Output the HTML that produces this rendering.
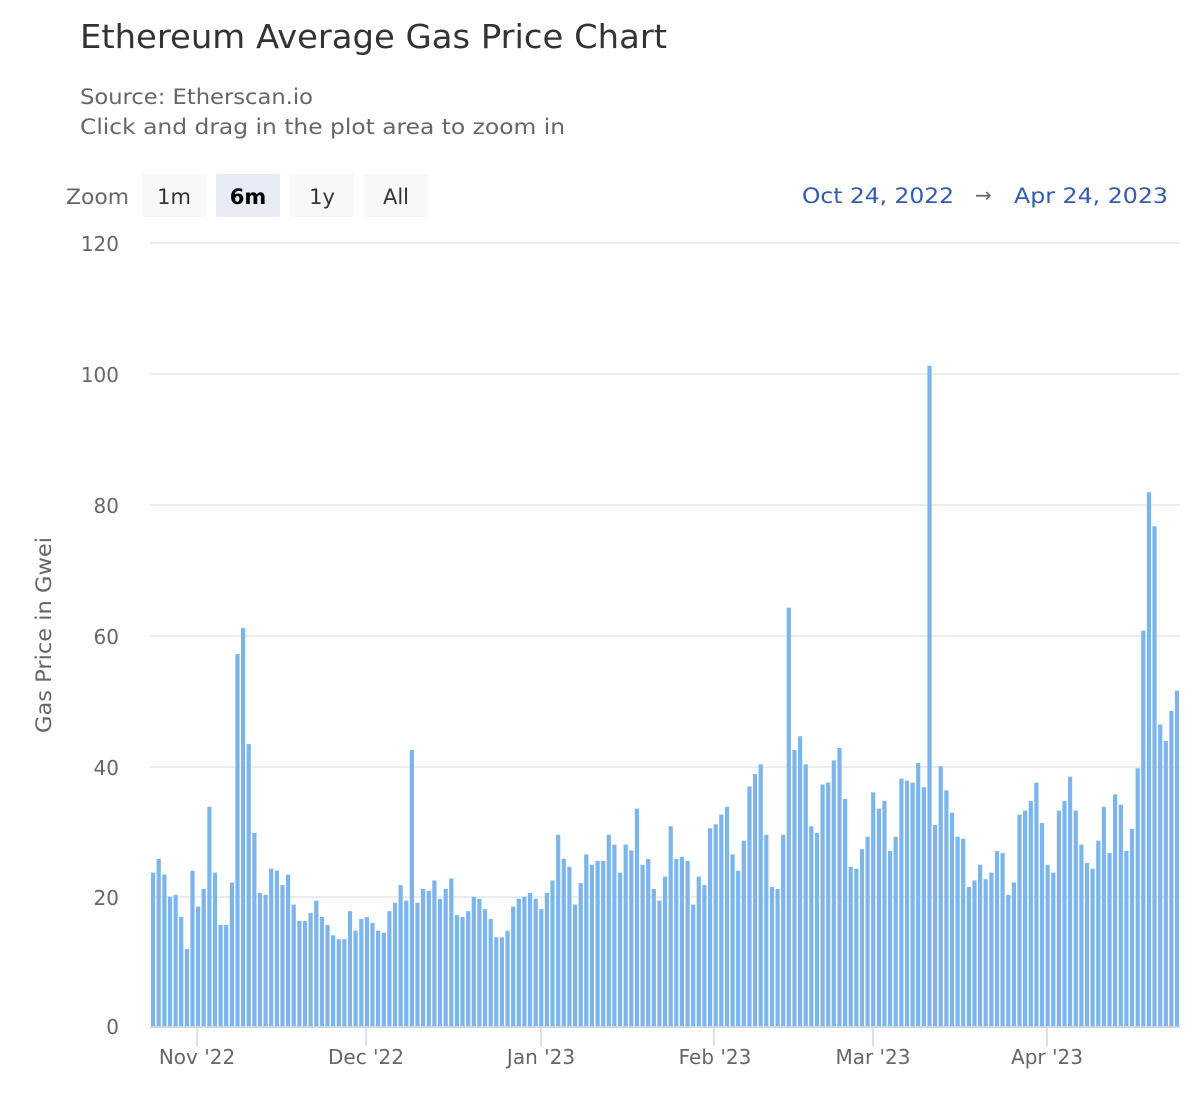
<!DOCTYPE html>
<html><head><meta charset="utf-8"><style>
html,body{margin:0;padding:0;background:#fff;}
svg{display:block;font-family:"DejaVu Sans","Liberation Sans",sans-serif;}
</style></head><body>
<svg id="s" width="1200" height="1100" viewBox="0 0 1200 1100" xmlns="http://www.w3.org/2000/svg">
<rect width="1200" height="1100" fill="#fff"/>
<text x="80" y="48" font-size="33" fill="#333" textLength="587" lengthAdjust="spacingAndGlyphs">Ethereum Average Gas Price Chart</text>
<text x="80" y="104" font-size="21" fill="#666" textLength="233" lengthAdjust="spacingAndGlyphs">Source: Etherscan.io</text>
<text x="80" y="134" font-size="21" fill="#666" textLength="485" lengthAdjust="spacingAndGlyphs">Click and drag in the plot area to zoom in</text>
<text x="66" y="204" font-size="21" fill="#666" textLength="63" lengthAdjust="spacingAndGlyphs">Zoom</text>
<rect x="142" y="174" width="64" height="43" rx="2" fill="#f7f7f7"/>
<rect x="216" y="174" width="64" height="43" rx="2" fill="#e6ebf5"/>
<rect x="290" y="174" width="64" height="43" rx="2" fill="#f7f7f7"/>
<rect x="364" y="174" width="64" height="43" rx="2" fill="#f7f7f7"/>
<text x="174" y="204" font-size="21" fill="#333" text-anchor="middle">1m</text>
<text x="248" y="204" font-size="21" fill="#000" font-weight="bold" text-anchor="middle">6m</text>
<text x="322" y="204" font-size="21" fill="#333" text-anchor="middle">1y</text>
<text x="396" y="204" font-size="21" fill="#333" text-anchor="middle">All</text>
<text x="802" y="203" font-size="21" fill="#335cad" textLength="152" lengthAdjust="spacingAndGlyphs">Oct 24, 2022</text>
<text x="975" y="202" font-size="20" fill="#666">→</text>
<text x="1014" y="203" font-size="21" fill="#335cad" textLength="154" lengthAdjust="spacingAndGlyphs">Apr 24, 2023</text>
<g stroke="#e6e6e6" stroke-width="1.5">
<line x1="150" x2="1180" y1="243" y2="243"/><line x1="150" x2="1180" y1="374" y2="374"/>
<line x1="150" x2="1180" y1="505" y2="505"/><line x1="150" x2="1180" y1="636" y2="636"/>
<line x1="150" x2="1180" y1="767" y2="767"/><line x1="150" x2="1180" y1="897" y2="897"/>
</g>
<g font-size="20" fill="#666" text-anchor="end">
<text x="119" y="251">120</text><text x="119" y="382">100</text><text x="119" y="513">80</text>
<text x="119" y="644">60</text><text x="119" y="775">40</text><text x="119" y="905">20</text><text x="119" y="1034">0</text>
</g>
<text transform="translate(51,635) rotate(-90)" font-size="21" fill="#666" text-anchor="middle" textLength="196" lengthAdjust="spacingAndGlyphs">Gas Price in Gwei</text>
<g id="bars" fill="#7cb5ec"></g>
<line x1="150" x2="1180" y1="1027" y2="1027" stroke="#ccd6eb" stroke-width="2"/>
<g stroke="#ccd6eb" stroke-width="1.5">
<line x1="197" x2="197" y1="1027" y2="1046"/><line x1="366" x2="366" y1="1027" y2="1046"/>
<line x1="541" x2="541" y1="1027" y2="1046"/><line x1="714" x2="714" y1="1027" y2="1046"/>
<line x1="873" x2="873" y1="1027" y2="1046"/><line x1="1047" x2="1047" y1="1027" y2="1046"/>
</g>
<g font-size="20" fill="#666" text-anchor="middle">
<text x="197" y="1064">Nov '22</text><text x="366" y="1064">Dec '22</text><text x="541" y="1064">Jan '23</text>
<text x="715" y="1064">Feb '23</text><text x="873" y="1064">Mar '23</text><text x="1047" y="1064">Apr '23</text>
</g>
</svg>
<script>
var v=[23.5,25.6,23.2,19.8,20.1,16.7,11.8,23.8,18.3,21.0,33.6,23.5,15.5,15.5,22.0,57.0,61.0,43.2,29.6,20.4,20.1,24.1,23.8,21.6,23.2,18.6,16.1,16.1,17.3,19.2,16.7,15.5,13.9,13.3,13.3,17.6,14.6,16.4,16.7,15.8,14.6,14.3,17.6,18.9,21.6,19.2,42.3,18.9,21.0,20.7,22.3,19.5,21.0,22.6,17.0,16.7,17.6,19.8,19.5,17.9,16.4,13.6,
13.6,14.6,18.3,19.5,19.8,20.4,19.5,17.9,20.4,22.3,29.3,25.6,24.4,18.6,21.9,26.3,24.7,25.3,25.3,29.3,27.8,23.5,27.8,26.9,33.3,24.7,25.6,21.0,19.2,22.9,30.6,25.6,25.9,25.3,18.6,22.9,21.6,30.3,30.9,32.4,33.6,26.3,23.8,28.4,36.7,38.6,40.1,29.3,21.3,21.0,29.3,64.1,42.3,44.4,40.1,30.6,29.6,37.0,37.3,40.7,42.6,
34.8,24.4,24.1,27.1,29.0,35.8,33.3,34.5,26.8,29.0,37.9,37.6,37.3,40.3,36.6,101.2,30.8,39.8,36.1,32.7,29.0,28.7,21.3,22.3,24.7,22.5,23.5,26.8,26.5,20.1,22.0,32.4,33.0,34.5,37.3,31.1,24.7,23.5,33.0,34.5,38.2,33.0,27.8,25.0,24.1,28.4,33.6,26.5,35.5,33.9,26.8,30.2,39.5,60.6,81.8,76.6,46.2,43.7,48.3,51.4];
var g=document.getElementById('bars'),h='';
for(var i=0;i<v.length;i++){var x=151+i*5.626,y=1026-v[i]*6.525;h+='<rect x="'+x.toFixed(1)+'" y="'+y.toFixed(1)+'" width="4.2" height="'+(1026-y).toFixed(1)+'"/>';}
g.innerHTML=h;
</script>
</body></html>
